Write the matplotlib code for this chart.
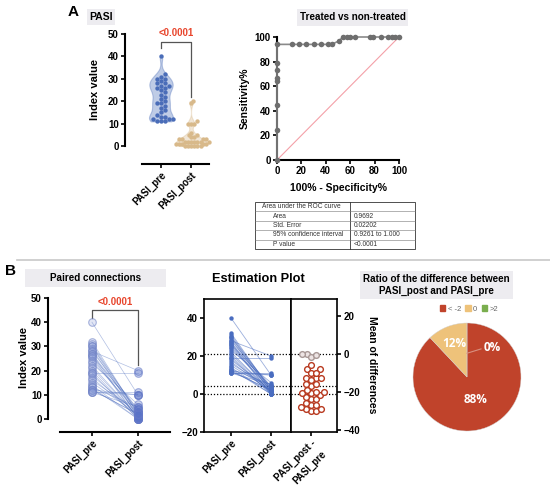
import numpy as np
import matplotlib
matplotlib.use("Agg")
import matplotlib.pyplot as plt
from matplotlib.patches import Rectangle
from matplotlib.lines import Line2D

plt.rcParams['font.family'] = ['Liberation Sans', 'DejaVu Sans']

# ---------------- data ----------------
categories = ["PASI_pre", "PASI_post"]
pasi_pre = [40, 32, 31, 30, 30, 29, 28, 28, 27, 27, 26, 26, 25, 24, 23, 22, 21,
            20, 19, 19, 18, 17, 16, 15, 14, 13, 13, 12, 12, 12, 11, 11, 11]
pasi_post = [10, 2, 2, 1, 3, 1, 20, 4, 0, 3, 4, 0, 2, 3, 6, 1, 1,
             0, 19, 0, 2, 1, 3, 2, 0, 0, 5, 10, 2, 2, 10, 11, 5]
p_label = "<0.0001"

roc_fpr = [0, 0, 0, 0, 0, 0, 0, 0, 12, 18, 24, 30, 36, 42, 45, 51, 54, 57, 60, 64,
           76, 79, 85, 91, 94, 97, 100]
roc_sens = [0, 24, 45, 64, 67, 73, 79, 94, 94, 94, 94, 94, 94, 94, 94, 97, 100, 100,
            100, 100, 100, 100, 100, 100, 100, 100, 100]
table_rows = ["Area under the ROC curve", "Area", "Std. Error", "95% confidence interval", "P value"]
table_vals = ["", "0.9692", "0.02202", "0.9261 to 1.000", "<0.0001"]

pie_labels = ["< -2", "0", ">2"]
pie_values = [88, 12, 0]
pie_colors = ["#C0432B", "#EEC27A", "#7AAE4E"]

pre = np.array(pasi_pre, float)
post = np.array(pasi_post, float)
diff = post - pre

W, H = 550, 497
fig = plt.figure(figsize=(W / 100, H / 100), dpi=100)


def ax_px(x0, y0, x1, y1, **kw):
    return fig.add_axes([x0 / W, 1 - y1 / H, (x1 - x0) / W, (y1 - y0) / H], **kw)


def beeswarm(vals, sx, sy, d, step=0.25):
    vals = np.asarray(vals, float)
    order = np.argsort(vals, kind="stable")
    placed = []
    offs = np.zeros(len(vals))
    cands = [0.0]
    for k in range(1, 80):
        cands += [k * d * step, -k * d * step]
    for i in order:
        y = vals[i] * sy
        for c in cands:
            if all((c - px) ** 2 + (y - py) ** 2 >= d * d * 0.98 for px, py in placed):
                break
        placed.append((c, y))
        offs[i] = c / sx
    return offs


def style_ticks(ax, size=7, bold=True):
    ax.tick_params(labelsize=size, width=1.2, length=3, pad=1.5)
    for lab in ax.get_xticklabels() + ax.get_yticklabels():
        lab.set_fontweight("bold" if bold else "normal")


def cat_labels(ax, labels, size=7):
    ax.set_xticklabels(labels, rotation=45, ha="right", rotation_mode="anchor",
                       fontsize=size, fontweight="bold")


BLUE = "#4A6DB8"
TAN = "#D8B98A"
RED_TXT = "#E8452C"

# ---------------- overlay ----------------
ov = fig.add_axes([0, 0, 1, 1])
ov.set_xlim(0, W)
ov.set_ylim(H, 0)
ov.axis("off")
ov.patch.set_visible(False)
ov.set_zorder(10)


def title_box(x0, y0, x1, y1, text, size=7.1):
    ov.add_patch(Rectangle((x0, y0), x1 - x0, y1 - y0, facecolor="#EDECF0", edgecolor="none", zorder=0))
    ov.text((x0 + x1) / 2, (y0 + y1) / 2, text, ha="center", va="center", fontsize=size,
            fontweight="bold", linespacing=1.3)


ov.text(73, 12, "A", fontsize=11, fontweight="bold", ha="center", va="center")
ov.text(10, 271, "B", fontsize=11, fontweight="bold", ha="center", va="center")
title_box(87, 9, 115, 25, "PASI", size=7.5)
title_box(297, 9, 408, 26, "Treated vs non-treated")
title_box(25, 269, 166, 287, "Paired connections")
title_box(360, 271, 513, 299, "Ratio of the difference between\nPASI_post and PASI_pre")
ov.text(258, 279, "Estimation Plot", fontsize=9.2, fontweight="bold", ha="center", va="center")
ov.add_line(Line2D([17, 550], [260, 260], color="#C8C8C8", lw=1.2))

# axis labels
ov.text(95, 90, "Index value", rotation=90, fontsize=8, fontweight="bold", ha="center", va="center")
ov.text(245, 98, "Sensitivity%", rotation=90, fontsize=7.5, fontweight="bold", ha="center", va="center")
ov.text(338, 188, "100% - Specificity%", fontsize=7.5, fontweight="bold", ha="center", va="center")
ov.text(24, 358, "Index value", rotation=90, fontsize=8, fontweight="bold", ha="center", va="center")
ov.text(372, 365, "Mean of differences", rotation=270, fontsize=7.5, fontweight="bold", ha="center", va="center")

# ---------------- A: violin ----------------
axv = ax_px(125, 34, 209, 164)
axv.set_xlim(-1.2, 1.6)
axv.set_ylim(-8, 50)
for sp in ("top", "right"):
    axv.spines[sp].set_visible(False)
axv.spines["left"].set_bounds(0, 50)
axv.spines["bottom"].set_bounds(-0.63, 1.6)
for sp in ("left", "bottom"):
    axv.spines[sp].set_linewidth(1.5)
axv.patch.set_visible(False)
for pos, vals, col, w, d in [(0, pre, BLUE, 0.8, 4.0), (1, post, TAN, 1.0, 3.2)]:
    vp = axv.violinplot([vals], positions=[pos], widths=w, showextrema=False, bw_method=0.3)
    for b in vp["bodies"]:
        b.set_facecolor(col)
        b.set_edgecolor(col)
        b.set_alpha(0.35)
        b.set_linewidth(0.8)
    offs = beeswarm(vals, 30, 2.24, d)
    axv.scatter(pos + offs, vals, s=10, color=col, zorder=3, clip_on=False, linewidths=0)
axv.set_xticks([0, 1])
axv.set_yticks([0, 10, 20, 30, 40, 50])
cat_labels(axv, categories)
style_ticks(axv)
top = pre.max() + 6.5
axv.plot([0, 0, 1, 1], [pre.max() + 3.8, top, top, post.max() + 2], color="#555555", lw=0.9, clip_on=False)
axv.text(0.5, top + 4, p_label, color=RED_TXT, fontsize=7, fontweight="bold", ha="center", va="center")

# ---------------- A: ROC ----------------
axr = ax_px(277, 37, 399, 160)
axr.set_xlim(0, 100)
axr.set_ylim(0, 100)
for sp in ("top", "right"):
    axr.spines[sp].set_visible(False)
for sp in ("left", "bottom"):
    axr.spines[sp].set_linewidth(1.5)
axr.plot([0, 100], [0, 100], color="#F4A0A8", lw=0.8)
axr.plot(roc_fpr, roc_sens, color="#8A8A8A", lw=1.2, clip_on=False, zorder=3)
axr.scatter(roc_fpr, roc_sens, s=16, color="#6E6E6E", zorder=4, clip_on=False, linewidths=0)
axr.set_xticks(range(0, 101, 20))
axr.set_yticks(range(0, 101, 20))
style_ticks(axr)

# table
tx0, tx1, tmid, ty0, rh = 255, 415, 350, 202, 9.4
n = len(table_rows)
ov.add_patch(Rectangle((tx0, ty0), tx1 - tx0, rh * n, facecolor="white", edgecolor="#333333", lw=0.6))
ov.add_line(Line2D([tmid, tmid], [ty0, ty0 + rh * n], color="#333333", lw=0.6))
for i in range(1, n):
    ov.add_line(Line2D([tx0, tx1], [ty0 + rh * i] * 2, color="#777777", lw=0.4))
for i, (r, v) in enumerate(zip(table_rows, table_vals)):
    yc = ty0 + rh * (i + 0.5)
    ov.text(262 if i == 0 else 273, yc, r, fontsize=4.8, color="#333333", ha="left", va="center")
    ov.text(354, yc, v, fontsize=4.8, color="#333333", ha="left", va="center")

# ---------------- B: paired ----------------
axp = ax_px(48, 298, 170, 432)
axp.set_xlim(-0.957, 1.7)
axp.set_ylim(-5.4, 50)
for sp in ("top", "right"):
    axp.spines[sp].set_visible(False)
axp.spines["left"].set_bounds(0, 50)
axp.spines["bottom"].set_bounds(-0.7, 1.7)
for sp in ("left", "bottom"):
    axp.spines[sp].set_linewidth(1.5)
axp.patch.set_visible(False)
for a, b in zip(pre, post):
    axp.plot([0, 1], [a, b], color="#5070C0", lw=0.5, alpha=0.45, zorder=2)
axp.scatter(np.zeros_like(pre), pre, s=30, facecolor=(0.55, 0.62, 0.85, 0.25),
            edgecolor=(0.45, 0.52, 0.78, 0.6), linewidths=0.8, zorder=3, clip_on=False)
axp.scatter(np.ones_like(post), post, s=30, facecolor=(0.35, 0.45, 0.78, 0.3),
            edgecolor=(0.40, 0.48, 0.78, 0.6), linewidths=0.8, zorder=3, clip_on=False)
axp.set_xticks([0, 1])
axp.set_yticks([0, 10, 20, 30, 40, 50])
cat_labels(axp, categories)
style_ticks(axp)
top = pre.max() + 5
axp.plot([0, 0, 1, 1], [pre.max() + 1.7, top, top, post.max() + 2.3], color="#555555", lw=0.9, clip_on=False)
axp.text(0.5, top + 3.5, p_label, color=RED_TXT, fontsize=7, fontweight="bold", ha="center", va="center")

# ---------------- B: estimation ----------------
mean_pre = pre.mean()
mean_post = post.mean()
axe = ax_px(204, 299, 291, 432)
axe.set_xlim(-0.675, 1.5)
axe.set_ylim(-20, 50)
for sp in axe.spines.values():
    sp.set_linewidth(1.2)
for a, b in zip(pre, post):
    axe.plot([0, 1], [a, b], color="#4A6DC0", lw=0.6, alpha=0.55, zorder=2)
axe.scatter(np.zeros_like(pre), pre, s=10, color="#4A6DC0", zorder=3, linewidths=0)
axe.scatter(np.ones_like(post), post, s=10, color="#4A6DC0", zorder=3, linewidths=0)
for yv in (mean_pre, mean_post, 0):
    axe.axhline(yv, color="black", lw=0.9, ls=(0, (1, 1.5)), zorder=1)
axe.set_xticks([0, 1])
axe.set_yticks([-20, 0, 20, 40])
cat_labels(axe, categories)
style_ticks(axe, size=7, bold=True)

axd = ax_px(291, 299, 337, 432)
axd.set_xlim(-0.5, 0.65)
axd.set_ylim(-20 - mean_pre, 50 - mean_pre)
for sp in axd.spines.values():
    sp.set_linewidth(1.2)
axd.yaxis.tick_right()
for yv in (mean_pre, mean_post, 0):
    axd.axhline(yv - mean_pre, color="black", lw=0.9, ls=(0, (1, 1.5)), zorder=1)
offs = beeswarm(diff, 40, 1.9, 5.0)
small = np.abs(diff) <= 2
axd.scatter(offs[~small], diff[~small], s=17, facecolor="white", edgecolor="#B8391F",
            linewidths=1.0, zorder=3)
axd.scatter(offs[small], diff[small], s=17, facecolor="#EDE4E4", edgecolor="#A89896",
            linewidths=1.0, zorder=3)
axd.set_xticks([0])
axd.set_yticks([-40, -20, 0, 20])
axd.set_xticklabels(["PASI_post -\nPASI_pre"], rotation=45, ha="right", rotation_mode="anchor",
                    fontsize=7, fontweight="bold", linespacing=1.6)
style_ticks(axd, size=7, bold=True)

# ---------------- B: pie ----------------
axpie = ax_px(413, 323, 521, 431)
wedges, _ = axpie.pie(pie_values, colors=pie_colors, startangle=90, counterclock=False, radius=1,
                      wedgeprops=dict(linewidth=0.3, edgecolor="#d0d0d0"))
axpie.set_xlim(-1, 1)
axpie.set_ylim(-1, 1)
axpie.set_aspect("equal")
for w, v in zip(wedges, pie_values):
    mid = np.deg2rad((w.theta1 + w.theta2) / 2)
    if v >= 50:
        r = 0.45
    elif v > 0:
        r = 0.66
    else:
        r = None
    if r is not None:
        axpie.text(r * np.cos(mid), r * np.sin(mid), f"{v}%", color="white", fontsize=8.5,
                   fontweight="bold", ha="center", va="center", family=["Open Sans", "DejaVu Sans"])
    else:
        axpie.plot([0.0, 0.26], [0.44, 0.52], color="#D89080", lw=0.8)
        axpie.text(0.46, 0.55, f"{v}%", color="white", fontsize=8.5, fontweight="bold",
                   ha="center", va="center", family=["Open Sans", "DejaVu Sans"])
handles = [Rectangle((0, 0), 1, 1, color=c) for c in pie_colors]
leg = fig.legend(handles, pie_labels, loc="center", bbox_to_anchor=(469 / W, 1 - 309 / H), ncol=3,
                 frameon=False, fontsize=5.5, handlelength=0.7, handleheight=0.7, handletextpad=0.3,
                 columnspacing=0.6, borderpad=0)
for t in leg.get_texts():
    t.set_color("#666666")

fig.savefig("out.png", dpi=100)
